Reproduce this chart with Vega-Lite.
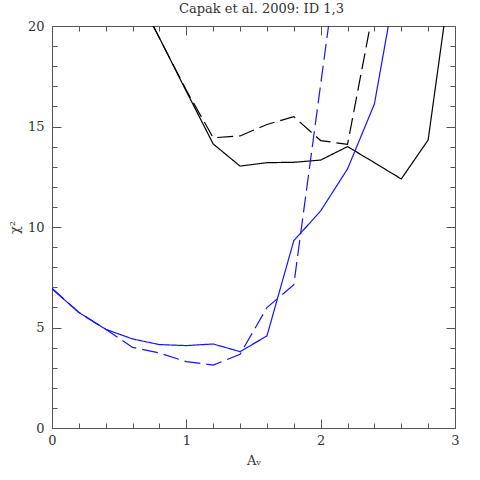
{
  "$schema": "https://vega.github.io/schema/vega-lite/v6.json",
  "width": 403,
  "height": 402,
  "autosize": {"type": "none"},
  "padding": {"left": 52, "top": 26, "right": 25, "bottom": 52},
  "background": "white",
  "title": {"text": "Capak et al. 2009: ID 1,3", "font": "DejaVu Serif", "fontSize": 13, "fontWeight": "normal", "color": "#333333", "offset": 4, "dx": 8},
  "config": {"view": {"stroke": null}, "axis": {"grid": false, "labelFont": "DejaVu Serif", "titleFont": "DejaVu Serif", "labelColor": "#333333", "titleColor": "#333333", "domainColor": "#555555", "tickColor": "#555555", "labelFontSize": 13, "titleFontSize": 13, "titleFontWeight": "normal"}},
  "data": {"values": [
    {"av": 0.6, "chi2": 22.0, "model": "A", "variant": "1"},
    {"av": 0.8, "chi2": 19.4, "model": "A", "variant": "1"},
    {"av": 1.0, "chi2": 16.75, "model": "A", "variant": "1"},
    {"av": 1.2, "chi2": 14.13, "model": "A", "variant": "1"},
    {"av": 1.4, "chi2": 13.03, "model": "A", "variant": "1"},
    {"av": 1.6, "chi2": 13.2, "model": "A", "variant": "1"},
    {"av": 1.8, "chi2": 13.22, "model": "A", "variant": "1"},
    {"av": 2.0, "chi2": 13.33, "model": "A", "variant": "1"},
    {"av": 2.2, "chi2": 14.0, "model": "A", "variant": "1"},
    {"av": 2.4, "chi2": 13.2, "model": "A", "variant": "1"},
    {"av": 2.6, "chi2": 12.39, "model": "A", "variant": "1"},
    {"av": 2.8, "chi2": 14.33, "model": "A", "variant": "1"},
    {"av": 3.0, "chi2": 24.0, "model": "A", "variant": "1"},
    {"av": 0.6, "chi2": 22.0, "model": "A", "variant": "2"},
    {"av": 0.8, "chi2": 19.4, "model": "A", "variant": "2"},
    {"av": 1.0, "chi2": 16.8, "model": "A", "variant": "2"},
    {"av": 1.2, "chi2": 14.44, "model": "A", "variant": "2"},
    {"av": 1.4, "chi2": 14.53, "model": "A", "variant": "2"},
    {"av": 1.6, "chi2": 15.1, "model": "A", "variant": "2"},
    {"av": 1.8, "chi2": 15.49, "model": "A", "variant": "2"},
    {"av": 2.0, "chi2": 14.3, "model": "A", "variant": "2"},
    {"av": 2.2, "chi2": 14.11, "model": "A", "variant": "2"},
    {"av": 2.4, "chi2": 21.1, "model": "A", "variant": "2"},
    {"av": 0.0, "chi2": 6.92, "model": "B", "variant": "1"},
    {"av": 0.2, "chi2": 5.75, "model": "B", "variant": "1"},
    {"av": 0.4, "chi2": 4.91, "model": "B", "variant": "1"},
    {"av": 0.6, "chi2": 4.43, "model": "B", "variant": "1"},
    {"av": 0.8, "chi2": 4.15, "model": "B", "variant": "1"},
    {"av": 1.0, "chi2": 4.1, "model": "B", "variant": "1"},
    {"av": 1.2, "chi2": 4.18, "model": "B", "variant": "1"},
    {"av": 1.4, "chi2": 3.8, "model": "B", "variant": "1"},
    {"av": 1.6, "chi2": 4.58, "model": "B", "variant": "1"},
    {"av": 1.8, "chi2": 9.32, "model": "B", "variant": "1"},
    {"av": 2.0, "chi2": 10.8, "model": "B", "variant": "1"},
    {"av": 2.2, "chi2": 12.89, "model": "B", "variant": "1"},
    {"av": 2.4, "chi2": 16.12, "model": "B", "variant": "1"},
    {"av": 2.6, "chi2": 23.6, "model": "B", "variant": "1"},
    {"av": 0.0, "chi2": 6.95, "model": "B", "variant": "2"},
    {"av": 0.2, "chi2": 5.75, "model": "B", "variant": "2"},
    {"av": 0.4, "chi2": 4.91, "model": "B", "variant": "2"},
    {"av": 0.6, "chi2": 4.01, "model": "B", "variant": "2"},
    {"av": 0.8, "chi2": 3.73, "model": "B", "variant": "2"},
    {"av": 1.0, "chi2": 3.3, "model": "B", "variant": "2"},
    {"av": 1.2, "chi2": 3.13, "model": "B", "variant": "2"},
    {"av": 1.4, "chi2": 3.67, "model": "B", "variant": "2"},
    {"av": 1.6, "chi2": 5.99, "model": "B", "variant": "2"},
    {"av": 1.8, "chi2": 7.13, "model": "B", "variant": "2"},
    {"av": 2.0, "chi2": 17.1, "model": "B", "variant": "2"},
    {"av": 2.2, "chi2": 27.0, "model": "B", "variant": "2"}
  ]},
  "resolve": {"axis": {"x": "independent", "y": "independent"}},
  "layer": [
    {
      "mark": {"type": "line", "clip": true, "strokeWidth": 1.2},
      "encoding": {
        "x": {"field": "av", "type": "quantitative", "scale": {"domain": [0, 3], "nice": false, "zero": false},
              "axis": {"orient": "bottom", "values": [0, 1, 2, 3], "format": "d", "tickSize": -9, "labelPadding": 15, "title": "Aᵥ", "titlePadding": 7, "labelFlush": false}},
        "y": {"field": "chi2", "type": "quantitative", "scale": {"domain": [0, 20], "nice": false, "zero": false},
              "axis": {"orient": "left", "values": [0, 5, 10, 15, 20], "tickSize": -9, "labelPadding": 17, "title": "χ²", "titlePadding": 6, "labelFlush": false}},
        "color": {"field": "model", "type": "nominal", "scale": {"domain": ["A", "B"], "range": ["#000000", "#1414ff"]}, "legend": null},
        "strokeDash": {"field": "variant", "type": "nominal", "scale": {"domain": ["1", "2"], "range": [[1, 0], [16, 6]]}, "legend": null},
        "detail": {"field": "variant"}
      }
    },
    {
      "mark": {"type": "point", "opacity": 0, "clip": true},
      "encoding": {
        "x": {"field": "av", "type": "quantitative", "axis": {"orient": "bottom", "values": [0.2, 0.4, 0.6, 0.8, 1.2, 1.4, 1.6, 1.8, 2.2, 2.4, 2.6, 2.8], "tickSize": -5, "labels": false, "domain": false, "title": null, "minExtent": 0, "maxExtent": 0}},
        "y": {"field": "chi2", "type": "quantitative", "axis": {"orient": "left", "values": [1, 2, 3, 4, 6, 7, 8, 9, 11, 12, 13, 14, 16, 17, 18, 19], "tickSize": -5, "labels": false, "domain": false, "title": null, "minExtent": 0, "maxExtent": 0}}
      }
    },
    {
      "mark": {"type": "point", "opacity": 0, "clip": true},
      "encoding": {
        "x": {"field": "av", "type": "quantitative", "axis": {"orient": "top", "values": [0, 1, 2, 3], "tickSize": -9, "labels": false, "title": null, "minExtent": 0, "maxExtent": 0}},
        "y": {"field": "chi2", "type": "quantitative", "axis": {"orient": "right", "values": [0, 5, 10, 15, 20], "tickSize": -9, "labels": false, "title": null, "minExtent": 0, "maxExtent": 0}}
      }
    },
    {
      "mark": {"type": "point", "opacity": 0, "clip": true},
      "encoding": {
        "x": {"field": "av", "type": "quantitative", "axis": {"orient": "top", "values": [0.2, 0.4, 0.6, 0.8, 1.2, 1.4, 1.6, 1.8, 2.2, 2.4, 2.6, 2.8], "tickSize": -5, "labels": false, "domain": false, "title": null, "minExtent": 0, "maxExtent": 0}},
        "y": {"field": "chi2", "type": "quantitative", "axis": {"orient": "right", "values": [1, 2, 3, 4, 6, 7, 8, 9, 11, 12, 13, 14, 16, 17, 18, 19], "tickSize": -5, "labels": false, "domain": false, "title": null, "minExtent": 0, "maxExtent": 0}}
      }
    }
  ]
}
